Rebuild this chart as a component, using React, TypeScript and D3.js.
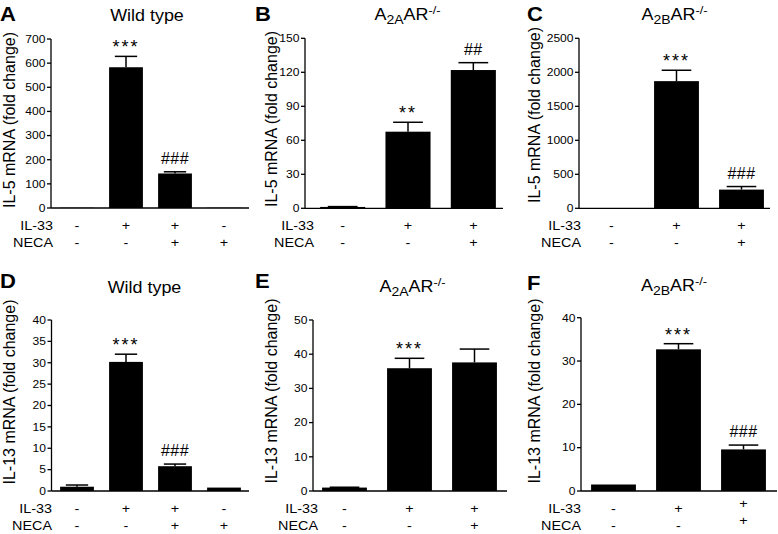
import React from 'react';
import * as d3 from 'd3';

// ---------- data ----------
const il33Row4 = ['-', '+', '+', '-'];
const necaRow4 = ['-', '-', '+', '+'];
const il33Row3 = ['-', '+', '+'];
const necaRow3 = ['-', '-', '+'];

const aMeans = [1, 583, 143, 1];
const aErrors = [0, 45, 7, 0];
const aMarks = ['', '***', '###', ''];
const aTicks = [0, 100, 200, 300, 400, 500, 600, 700];

const bMeans = [1.2, 67.6, 122];
const bErrors = [0.3, 8.3, 6.5];
const bMarks = ['', '**', '##'];
const bTicks = [0, 30, 60, 90, 120, 150];

const cMeans = [1, 1870, 275];
const cErrors = [0, 160, 45];
const cMarks = ['', '***', '###'];
const cTicks = [0, 500, 1000, 1500, 2000, 2500];

const dMeans = [1.0, 30.2, 5.8, 0.8];
const dErrors = [0.4, 1.8, 0.5, 0];
const dMarks = ['', '***', '###', ''];
const dTicks = [0, 5, 10, 15, 20, 25, 30, 35, 40];

const eMeans = [1.0, 35.9, 37.6];
const eErrors = [0.1, 2.9, 3.9];
const eMarks = ['', '***', ''];
const eTicks = [0, 10, 20, 30, 40, 50];

const fMeans = [1.5, 32.7, 9.6];
const fErrors = [0, 1.3, 1.0];
const fMarks = ['', '***', '###'];
const fTicks = [0, 10, 20, 30, 40];

const il5Label = 'IL-5 mRNA (fold change)';
const il13Label = 'IL-13 mRNA (fold change)';

// ---------- layout ----------
type Geno = 'wt' | 'a2a' | 'a2b';
interface Panel {
  letter: string; geno: Geno; ylabel: string;
  means: number[]; errors: number[]; marks: string[]; ticks: number[];
  il33: string[]; neca: string[];
  axisX: number; axisEnd: number; band: [number, number];
  yTop: number; yBottom: number;
  letterX: number; letterY: number; titleX: number; titleY: number;
  ylabX: number; ylabY: number; rowLabelX: number; lastShift: number;
}

const panels: Panel[] = [
  { letter: 'A', geno: 'wt', ylabel: il5Label, means: aMeans, errors: aErrors, marks: aMarks, ticks: aTicks,
    il33: il33Row4, neca: necaRow4, axisX: 51, axisEnd: 249, band: [52.5, 248.5], yTop: 39, yBottom: 208,
    letterX: 0, letterY: 21, titleX: 147, titleY: 21, ylabX: 14.5, ylabY: 120, rowLabelX: 53, lastShift: 0 },
  { letter: 'B', geno: 'a2a', ylabel: il5Label, means: bMeans, errors: bErrors, marks: bMarks, ticks: bTicks,
    il33: il33Row3, neca: necaRow3, axisX: 305, axisEnd: 503, band: [310, 506], yTop: 38.3, yBottom: 208.3,
    letterX: 255, letterY: 21, titleX: 407.5, titleY: 20, ylabX: 277, ylabY: 119, rowLabelX: 314, lastShift: 0 },
  { letter: 'C', geno: 'a2b', ylabel: il5Label, means: cMeans, errors: cErrors, marks: cMarks, ticks: cTicks,
    il33: il33Row3, neca: necaRow3, axisX: 579, axisEnd: 770, band: [579, 774], yTop: 38.3, yBottom: 208.3,
    letterX: 527, letterY: 21, titleX: 674.5, titleY: 20, ylabX: 539.5, ylabY: 115, rowLabelX: 581, lastShift: 0 },
  { letter: 'D', geno: 'wt', ylabel: il13Label, means: dMeans, errors: dErrors, marks: dMarks, ticks: dTicks,
    il33: il33Row4, neca: necaRow4, axisX: 51.5, axisEnd: 249, band: [52.5, 248.5], yTop: 320, yBottom: 491,
    letterX: 0, letterY: 288, titleX: 144.5, titleY: 293, ylabX: 14.5, ylabY: 392, rowLabelX: 52, lastShift: 0 },
  { letter: 'E', geno: 'a2a', ylabel: il13Label, means: eMeans, errors: eErrors, marks: eMarks, ticks: eTicks,
    il33: il33Row3, neca: necaRow3, axisX: 313, axisEnd: 507, band: [312, 507], yTop: 320, yBottom: 491,
    letterX: 255, letterY: 288, titleX: 412.5, titleY: 292, ylabX: 276.5, ylabY: 391, rowLabelX: 318, lastShift: 0 },
  { letter: 'F', geno: 'a2b', ylabel: il13Label, means: fMeans, errors: fErrors, marks: fMarks, ticks: fTicks,
    il33: il33Row3, neca: necaRow3, axisX: 581, axisEnd: 777, band: [581, 776], yTop: 317.7, yBottom: 491,
    letterX: 527, letterY: 290, titleX: 674, titleY: 291, ylabX: 539.5, ylabY: 391, rowLabelX: 581, lastShift: -5 },
];

const FONT = "'Liberation Sans', Arial, Helvetica, sans-serif";
const SX = 1.15;

function Title({ geno, x, y }: { geno: Geno; x: number; y: number }) {
  return (
    <g transform={`translate(${x},${y}) scale(1.12,1)`}>
      {geno === 'wt' ? (
        <text textAnchor="middle" fontSize={16}>Wild type</text>
      ) : (
        <text textAnchor="middle" fontSize={16}>
          <tspan>A</tspan>
          <tspan fontSize={12.5} dy={4}>{geno === 'a2a' ? '2A' : '2B'}</tspan>
          <tspan dy={-4}>AR</tspan>
          <tspan fontSize={11.5} dy={-6}>-/-</tspan>
        </text>
      )}
    </g>
  );
}

function PanelView({ p }: { p: Panel }) {
  const n = p.means.length;
  const x = d3.scaleBand<number>().domain(d3.range(n)).range(p.band).paddingInner(0.31).paddingOuter(0.155);
  const y = d3.scaleLinear().domain([0, p.ticks[p.ticks.length - 1]]).range([p.yBottom, p.yTop]);
  const bw = x.bandwidth();
  return (
    <g>
      <g transform={`translate(${p.letterX},${p.letterY}) scale(1.1,1)`}>
        <text fontSize={20} fontWeight="bold">{p.letter}</text>
      </g>
      <Title geno={p.geno} x={p.titleX} y={p.titleY} />
      <text transform={`translate(${p.ylabX},${p.ylabY}) rotate(-90)`} textAnchor="middle" fontSize={16}>
        {p.ylabel}
      </text>
      {/* bars */}
      {p.means.map((m, i) => {
        const x0 = x(i)!;
        const cx = x0 + bw / 2;
        const top = y(m);
        const et = y(m + p.errors[i]);
        const star = p.marks[i].startsWith('*');
        return (
          <g key={i}>
            <rect x={x0} y={top} width={bw} height={p.yBottom - top} fill="#000" />
            {p.errors[i] > 0 && (
              <g stroke="#000" strokeWidth={1.5}>
                <line x1={cx} x2={cx} y1={top} y2={et} />
                <line x1={cx - bw * 0.33} x2={cx + bw * 0.33} y1={et} y2={et} />
              </g>
            )}
            {p.marks[i] && (
              <text x={cx} y={star ? et - 3 : et - 8} textAnchor="middle"
                fontSize={star ? 18 : 16} letterSpacing={star ? 2 : 0.5}>
                {p.marks[i]}
              </text>
            )}
          </g>
        );
      })}
      {/* axes */}
      <line x1={p.axisX} x2={p.axisX} y1={p.yTop} y2={p.yBottom} stroke="#000" strokeWidth={1.3} />
      <line x1={p.axisX} x2={p.axisEnd} y1={p.yBottom} y2={p.yBottom} stroke="#000" strokeWidth={1.3} />
      {p.ticks.map((t) => (
        <g key={t}>
          <line x1={p.axisX - 4} x2={p.axisX} y1={y(t)} y2={y(t)} stroke="#000" strokeWidth={1.3} />
          <g transform={`translate(${p.axisX - 5.5},${y(t) + 3.8}) scale(${SX},1)`}>
            <text textAnchor="end" fontSize={10.5}>{t}</text>
          </g>
        </g>
      ))}
      {/* treatment rows */}
      <g transform={`translate(${p.rowLabelX},${p.yBottom + 21.5}) scale(${SX},1)`}>
        <text textAnchor="end" fontSize={12.5}>IL-33</text>
      </g>
      <g transform={`translate(${p.rowLabelX},${p.yBottom + 38.5}) scale(${SX},1)`}>
        <text textAnchor="end" fontSize={12.5}>NECA</text>
      </g>
      {p.il33.map((s, i) => {
        const cx = x(i)! + bw / 2;
        const sh = i === n - 1 ? p.lastShift : 0;
        return (
          <g key={i}>
            <g transform={`translate(${cx},${p.yBottom + 21.5 + sh}) scale(${SX},1)`}>
              <text textAnchor="middle" fontSize={12.5}>{s}</text>
            </g>
            <g transform={`translate(${cx},${p.yBottom + 38.5 + sh}) scale(${SX},1)`}>
              <text textAnchor="middle" fontSize={12.5}>{p.neca[i]}</text>
            </g>
          </g>
        );
      })}
    </g>
  );
}

export default function App() {
  return (
    <svg width={778} height={534} viewBox="0 0 778 534"
      style={{ position: 'absolute', left: 0, top: 0, background: '#fff' }}
      fontFamily={FONT} fill="#000">
      <rect width={778} height={534} fill="#fff" />
      {panels.map((p) => <PanelView key={p.letter} p={p} />)}
    </svg>
  );
}
